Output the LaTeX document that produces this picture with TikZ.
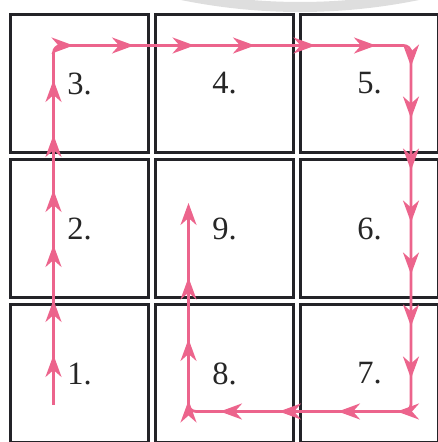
\documentclass[tikz,border=0pt]{standalone}
\usepackage{fontspec}
\setmainfont{Liberation Serif}
\usetikzlibrary{positioning,arrows.meta,decorations.markings}
\definecolor{pth}{RGB}{236,100,140}
\definecolor{brd}{RGB}{35,35,40}
\definecolor{rng}{RGB}{222,222,222}

\begin{document}
\begin{tikzpicture}[font=\fontsize{18.5}{22}\selectfont,node distance=0.08cm and 0.08cm,
  cell/.style={draw=brd,line width=0.065cm,minimum size=2.755cm,inner sep=0pt,text=black!85},
  route/.style={color=pth,line width=0.055cm,rounded corners=0.15cm,-{Stealth[length=4.4mm,width=3.2mm,inset=1.4mm]}},
  heads/.style n args={3}{color=pth,line width=0.055cm,postaction={decorate},decoration={markings,
      mark=between positions #1 and #2 step #3 with {\arrow{Stealth[length=4.4mm,width=3.2mm,inset=1.4mm]}}}}]
  \useasboundingbox (0,0) rectangle (8.76,8.84);
  % ring at the top edge
  \draw[rng,line width=0.2cm] (6.0,20.54) ++(250:11.84) arc[start angle=250,end angle=290,radius=11.84];
  % the nine cells
  \node[cell] (c3) at (1.59,7.17) {3.};
  \node[cell,right=of c3] (c4) {4.};
  \node[cell,right=of c4] (c5) {5.};
  \node[cell,below=of c3] (c2) {2.};
  \node[cell,right=of c2] (c9) {9.};
  \node[cell,right=of c9] (c6) {6.};
  \node[cell,below=of c2] (c1) {1.};
  \node[cell,right=of c1] (c8) {8.};
  \node[cell,right=of c8] (c7) {7.};
  % route through the cells
  \coordinate (st) at (1.07,0.74);
  \coordinate (tl) at (1.07,7.93);
  \coordinate (tr) at (8.22,7.93);
  \coordinate (br) at (8.22,0.61);
  \coordinate (bl) at (3.77,0.61);
  \coordinate (en) at (3.77,4.78);
  \draw[route] (st) -- (tl) -- (tr) -- (br) -- (bl) -- (en);
  % arrowheads along each leg
  \path[heads={1cm}{7cm}{1.1cm}] (st) -- (tl);
  \path[heads={0.4cm}{7cm}{1.21cm}] (tl) -- (tr);
  \path[heads={0.42cm}{7.1cm}{1.04cm}] (tr) -- (br);
  \path[heads={0.28cm}{4cm}{1.18cm}] (br) -- (bl);
  \path[heads={0.22cm}{3cm}{1.23cm}] (bl) -- (en);
\end{tikzpicture}
\end{document}
